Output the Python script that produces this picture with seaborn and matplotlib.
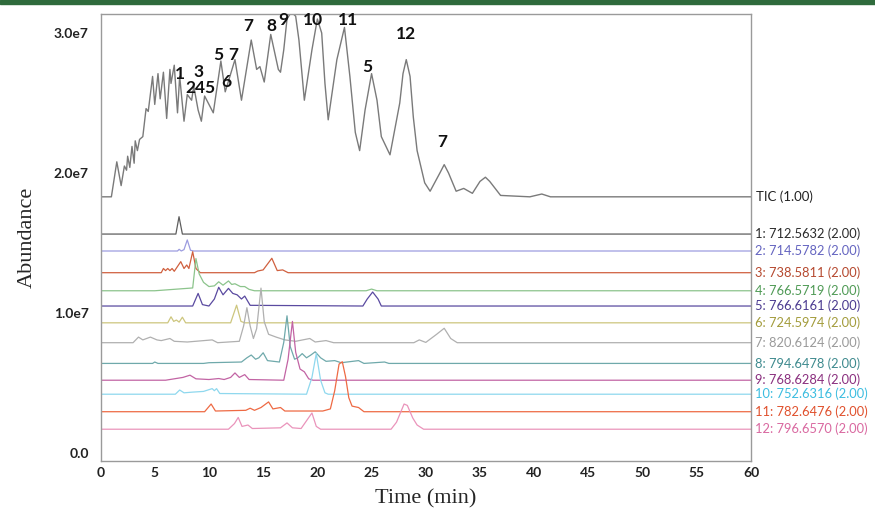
import numpy as np
import matplotlib
matplotlib.use("Agg")
import matplotlib.pyplot as plt
from matplotlib.patches import Rectangle
from matplotlib.ticker import MultipleLocator
import seaborn as sns

# TIC trace, abundance in units of 1e7
tic = [(0.0, 1.83), (1.0, 1.83), (1.5, 2.08), (1.9, 1.91), (2.2, 2.05), (2.4, 2.02),
       (2.5, 2.12), (2.7, 2.04), (2.9, 2.19), (3.1, 2.07), (3.2, 2.23), (3.4, 2.16),
       (3.6, 2.24), (3.9, 2.26), (4.2, 2.46), (4.4, 2.44), (4.8, 2.69), (5.0, 2.49),
       (5.3, 2.71), (5.5, 2.53), (5.8, 2.72), (6.1, 2.39), (6.4, 2.74), (6.5, 2.64),
       (6.8, 2.77), (7.1, 2.43), (7.3, 2.69), (7.7, 2.37), (8.0, 2.56), (8.4, 2.52),
       (8.6, 2.62), (9.0, 2.45), (9.3, 2.37), (9.6, 2.55), (10.0, 2.49), (10.4, 2.43),
       (11.1, 2.80), (11.5, 2.58), (12.4, 2.81), (13.0, 2.52), (13.9, 2.95), (14.4, 2.74),
       (14.7, 2.76), (15.1, 2.65), (15.7, 2.99), (16.4, 2.74), (16.6, 2.72), (16.9, 2.88),
       (17.2, 3.10), (17.6, 3.15), (18.0, 3.12), (18.3, 2.95), (18.8, 2.52), (19.5, 2.88),
       (20.0, 3.10), (20.4, 3.00), (20.7, 2.64), (21.0, 2.38), (21.8, 2.81), (22.5, 3.04),
       (23.0, 2.69), (23.5, 2.29), (23.9, 2.16), (24.4, 2.45), (25.0, 2.71), (25.5, 2.52),
       (25.9, 2.26), (26.7, 2.13), (27.6, 2.50), (27.9, 2.71), (28.2, 2.81), (28.55, 2.69),
       (28.85, 2.40), (29.2, 2.16), (29.9, 1.93), (30.4, 1.87), (31.3, 2.00), (31.7, 2.06),
       (32.1, 2.00), (32.8, 1.87), (33.5, 1.89), (34.3, 1.855), (35.0, 1.94), (35.5, 1.97),
       (35.9, 1.94), (36.9, 1.84), (39.6, 1.83), (40.7, 1.85), (41.5, 1.83), (60.0, 1.83)]

# extracted ion chromatograms, height above own baseline (1e7)
eic_1 = [(0, 0), (6.95, 0), (7.24, 0.124), (7.55, 0), (60, 0)]
eic_2 = [(0, 0), (7.1, 0), (7.25, 0.012), (7.45, 0), (7.7, 0.01), (8.0, 0.079), (8.3, 0.005),
         (8.6, 0), (60, 0)]
eic_3 = [(0, 0), (5.6, 0), (5.8, 0.03), (6.0, 0.015), (6.2, 0.03), (6.4, 0.015), (6.6, 0.03),
         (6.8, 0.01), (7.4, 0.079), (7.7, 0.03), (7.95, 0.055), (8.15, 0.03), (8.5, 0.15),
         (8.8, 0.03), (9.2, 0), (14.2, 0), (14.5, 0.012), (15.0, 0.02), (15.8, 0.103),
         (16.3, 0.015), (16.8, 0.02), (17.3, 0), (60, 0)]
eic_4 = [(0, 0), (5.0, 0), (8.5, 0.02), (8.8, 0.23), (9.1, 0.12), (9.5, 0.06), (10.0, 0.03),
         (10.5, 0.035), (10.9, 0.064), (11.3, 0.04), (11.8, 0.07), (12.1, 0.045), (12.4, 0.05),
         (12.9, 0.03), (13.3, 0.03), (13.7, 0.01), (14.2, 0), (24.5, 0), (25.0, 0.012),
         (25.5, 0), (60, 0)]
eic_5 = [(0, 0), (8.5, 0), (9.0, 0.09), (9.4, 0.01), (10.0, 0.0), (10.5, 0.05), (10.9, 0.134),
         (11.3, 0.08), (11.8, 0.126), (12.2, 0.09), (12.6, 0.08), (13.0, 0.05), (13.3, 0.071),
         (13.8, 0.005), (24.2, 0), (24.6, 0.05), (25.1, 0.1), (25.6, 0.05), (25.9, 0), (60, 0)]
eic_6 = [(0, 0), (6.2, 0), (6.5, 0.043), (6.75, 0.01), (7.0, 0.02), (7.25, 0.005), (7.55, 0.04),
         (7.85, 0), (12.0, 0), (12.55, 0.126), (12.95, 0.01), (13.3, 0), (60, 0)]
eic_7 = [(0, 0), (3.0, 0), (3.5, 0.04), (3.9, 0.02), (4.6, 0.04), (5.2, 0.02), (5.6, 0.015),
         (6.4, 0.03), (6.8, 0.01), (8.0, 0.005), (10.3, 0.02), (10.8, 0), (12.8, 0.01),
         (13.2, 0.12), (13.5, 0.25), (13.8, 0.12), (14.1, 0.03), (14.4, 0.1), (14.8, 0.39),
         (15.1, 0.15), (15.5, 0.06), (16.2, 0.04), (17.0, 0.02), (18.0, 0.01), (19.3, 0.03),
         (19.8, 0.005), (20.8, 0.015), (21.5, 0), (28.9, 0), (29.4, 0.02), (30.0, 0.002),
         (31.0, 0.06), (31.7, 0.103), (32.3, 0.03), (32.9, 0), (60, 0)]
eic_8 = [(0, 0), (4.8, 0), (5.0, 0.01), (5.3, 0), (9.5, 0), (10.0, 0.005), (13.0, 0.01),
         (13.5, 0.04), (13.9, 0.06), (14.3, 0.03), (14.6, 0.04), (15.0, 0.076), (15.4, 0.02),
         (16.5, 0.01), (16.9, 0.15), (17.2, 0.34), (17.5, 0.12), (17.9, 0.03), (18.2, 0.04),
         (18.6, 0.07), (19.0, 0.04), (19.4, 0.06), (19.8, 0.083), (20.3, 0.04), (20.8, 0.015),
         (21.6, 0.02), (22.2, 0.005), (23.8, 0.02), (24.3, 0), (26.2, 0.01), (26.6, 0), (60, 0)]
eic_9 = [(0, 0), (6.0, 0), (7.6, 0.02), (8.25, 0.036), (8.8, 0.01), (10.0, 0.005), (10.9, 0.012),
         (11.4, 0.005), (12.0, 0.02), (12.4, 0.052), (12.8, 0.02), (13.3, 0.04), (13.7, 0.005),
         (16.9, 0.0), (17.3, 0.15), (17.7, 0.42), (18.0, 0.2), (18.4, 0.08), (18.8, 0.06),
         (19.2, 0.01), (19.6, 0), (60, 0)]
eic_10 = [(0, 0), (6.9, 0), (7.3, 0.03), (7.7, 0.01), (8.5, 0.015), (9.5, 0.02), (10.3, 0.04),
          (10.5, 0.025), (10.7, 0.04), (11.0, 0.005), (19.0, 0), (19.5, 0.12), (19.9, 0.29),
          (20.3, 0.1), (20.7, 0.01), (21.0, 0), (60, 0)]
eic_11 = [(0, 0), (9.6, 0), (10.2, 0.055), (10.6, 0.005), (13.4, 0.01), (13.8, 0.025),
          (14.2, 0.01), (14.8, 0.03), (15.5, 0.07), (15.9, 0.02), (16.6, 0.03), (17.0, 0.005),
          (20.5, 0.005), (21.2, 0.02), (21.6, 0.15), (22.0, 0.34), (22.3, 0.357), (22.6, 0.25),
          (22.9, 0.1), (23.2, 0.04), (23.8, 0.03), (24.3, 0), (60, 0)]
eic_12 = [(0, 0), (11.8, 0), (12.35, 0.04), (12.7, 0.084), (13.05, 0.02), (13.6, 0.03),
          (14.0, 0.005), (16.6, 0.01), (17.2, 0.045), (17.7, 0.01), (18.5, 0.005), (19.5, 0.116),
          (19.9, 0.02), (20.3, 0), (26.8, 0), (27.3, 0.05), (28.0, 0.18), (28.3, 0.17),
          (28.8, 0.08), (29.2, 0.03), (29.8, 0), (60, 0)]

eics = [eic_1, eic_2, eic_3, eic_4, eic_5, eic_6, eic_7, eic_8, eic_9, eic_10, eic_11, eic_12]
offsets = [1.564, 1.443, 1.288, 1.159, 1.05, 0.93, 0.788, 0.64, 0.52, 0.42, 0.295, 0.17]
eic_labels = ["1: 712.5632 (2.00)", "2: 714.5782 (2.00)", "3: 738.5811 (2.00)",
              "4: 766.5719 (2.00)", "5: 766.6161 (2.00)", "6: 724.5974 (2.00)",
              "7: 820.6124 (2.00)", "8: 794.6478 (2.00)", "9: 768.6284 (2.00)",
              "10: 752.6316 (2.00)", "11: 782.6476 (2.00)", "12: 796.6570 (2.00)"]

# compound numbers written over the TIC
peak_names = ["1", "3", "245", "5", "6", "7", "7", "8", "9", "10", "11", "5", "12", "7"]
peak_t = [7.33, 9.0, 9.18, 10.84, 11.6, 12.2, 13.6, 15.8, 16.9, 19.6, 22.8, 24.6, 28.2, 31.5]
peak_v = [2.71, 2.72, 2.61, 2.84, 2.65, 2.84, 3.05, 3.05, 3.09, 3.09, 3.09, 2.76, 2.99, 2.22]

line_colors = ["#5e5e5e", "#9c9ce0", "#d0603f", "#8cc48c", "#5a4aa0", "#cdc67e",
               "#b0b0b0", "#6fa9ab", "#c264a4", "#8fd8ee", "#ee6a44", "#ea94bb"]
text_colors = ["#2b2b2b", "#6464c0", "#b5482e", "#4f9a55", "#4a3a90", "#a39c3c",
               "#9a9a9a", "#3e8a8e", "#8a2f7e", "#3cbde0", "#e0502c", "#d968a0"]

sns.set_style("white")
plt.rcParams["font.family"] = ["Lato", "DejaVu Sans"]

fig = plt.figure(figsize=(8.75, 5.16), dpi=100)
ax = fig.add_axes([0.1149, 0.1066, 0.7434, 0.8663])

t, v = zip(*tic)
sns.lineplot(x=np.array(t), y=np.array(v), ax=ax, color="#7a7a7a", lw=1.0,
             estimator=None, sort=False)
ax.text(60.5, tic[-1][1], "TIC (1.00)", va="center", ha="left", fontsize=9.5,
        color="#222222", clip_on=False)

for trace, off, col, tcol, lab in zip(eics, offsets, line_colors, text_colors, eic_labels):
    t, h = zip(*trace)
    sns.lineplot(x=np.array(t), y=np.array(h) + off, ax=ax, color=col, lw=0.9,
                 estimator=None, sort=False)
    ax.text(60.4, off, lab, va="center", ha="left", fontsize=9.3, color=tcol,
            clip_on=False)

for name, pt, pv in zip(peak_names, peak_t, peak_v):
    ax.text(pt, pv, name, ha="center", va="center", fontsize=12.5, fontweight="bold",
            color="#111111")

ax.set_xlim(0, 60)
ax.set_ylim(-0.057, 3.136)
ax.xaxis.set_major_locator(MultipleLocator(5))
ax.xaxis.set_minor_locator(MultipleLocator(1))
ax.set_yticks([0, 1, 2, 3])
ax.set_yticklabels(["0.0", "1.0e7", "2.0e7", "3.0e7"])
ax.yaxis.set_minor_locator(MultipleLocator(0.1))
ax.tick_params(axis="both", which="major", length=5, width=0.8, color="#777777",
               labelsize=10, labelcolor="#222222")
ax.tick_params(axis="both", which="minor", length=2.5, width=0.6, color="#999999")
ax.tick_params(axis="x", direction="in", pad=4)
ax.tick_params(axis="y", direction="out")
for lbl in ax.get_xticklabels() + ax.get_yticklabels():
    lbl.set_fontweight("bold")

for side in ["left", "right", "top", "bottom"]:
    ax.spines[side].set_color("#9a9a9a")
    ax.spines[side].set_linewidth(1.0)

ax.set_xlabel("Time (min)", fontsize=16, family="Liberation Serif", labelpad=8)
ax.set_ylabel("Abundance", fontsize=16, family="Liberation Serif", labelpad=12)

fig.patches.append(Rectangle((0, 1 - 4 / 516), 1, 4 / 516, transform=fig.transFigure,
                             color="#2f6b3c", zorder=5))

fig.savefig("out.png", dpi=100)
